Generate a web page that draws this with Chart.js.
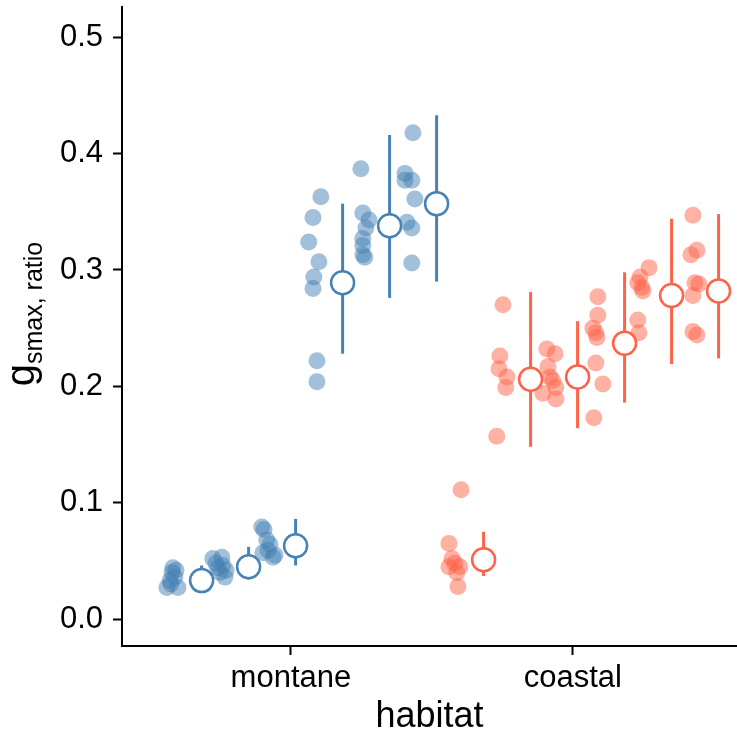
<!DOCTYPE html>
<html>
<head>
<meta charset="utf-8">
<script src="https://cdn.jsdelivr.net/npm/chart.js@4/dist/chart.umd.min.js"></script>
<style>
  html, body { margin: 0; padding: 0; background: #fff; }
  #wrap { width: 737px; height: 738px; }
</style>
</head>
<body>
<div id="wrap"><canvas id="plot" width="737" height="738"></canvas></div>
<script>
// categorias del eje x
const habitats = ['montane', 'coastal'];

// puntos individuales (valores y) por grupo, seis grupos por habitat
const montaneDots = [
    [0.044, 0.040, 0.036, 0.033, 0.027, 0.027, 0.042, 0.030],
    [0.052, 0.053, 0.046, 0.044, 0.036, 0.040, 0.048, 0.042],
    [0.079, 0.077, 0.068, 0.064, 0.059, 0.057, 0.053, 0.055],
    [0.363, 0.345, 0.324, 0.307, 0.294, 0.284, 0.222, 0.204],
    [0.387, 0.349, 0.343, 0.336, 0.327, 0.321, 0.313, 0.311],
    [0.418, 0.383, 0.377, 0.377, 0.361, 0.341, 0.336, 0.306]
];
const coastalDots = [
    [0.111, 0.065, 0.052, 0.048, 0.045, 0.045, 0.040, 0.028],
    [0.270, 0.226, 0.215, 0.208, 0.199, 0.157],
    [0.232, 0.228, 0.217, 0.208, 0.205, 0.194, 0.199, 0.189],
    [0.277, 0.261, 0.250, 0.246, 0.242, 0.220, 0.202, 0.173],
    [0.302, 0.294, 0.289, 0.285, 0.282, 0.257, 0.246],
    [0.347, 0.317, 0.313, 0.289, 0.288, 0.278, 0.247, 0.244]
];

// jitter horizontal de cada punto
const montaneJitter = [
    [-0.002, -0.005, 0.005, -0.012, -0.023, 0.016, 0.009, -0.009],
    [-0.027, 0.005, 0.009, -0.009, 0.016, -0.002, -0.016, 0.020],
    [-0.020, -0.012, -0.002, 0.009, 0.002, -0.016, 0.020, 0.027],
    [0.023, -0.005, -0.020, 0.016, -0.002, -0.005, 0.009, 0.009],
    [-0.002, 0.005, 0.027, 0.016, 0.005, 0.005, 0.005, 0.012],
    [0.016, -0.012, -0.012, 0.012, 0.023, -0.005, 0.012, 0.012]
];
const coastalJitter = [
    [0.020, -0.023, -0.012, -0.002, -0.023, 0.016, 0.005, 0.009],
    [0.002, -0.009, -0.012, 0.016, 0.012, -0.020],
    [-0.009, 0.020, -0.005, 0.002, 0.012, -0.023, 0.023, 0.023],
    [0.005, 0.005, -0.012, -0.002, 0.002, -0.002, 0.023, -0.009],
    [0.020, -0.012, -0.020, -0.005, -0.002, -0.020, -0.016],
    [0.009, 0.023, 0.002, 0.016, 0.030, 0.009, 0.009, 0.023]
];

// medias e intervalos
const montaneMean = [0.033, 0.045, 0.063, 0.289, 0.338, 0.357];
const montaneLow  = [0.026, 0.034, 0.046, 0.228, 0.276, 0.290];
const montaneHigh = [0.046, 0.062, 0.086, 0.357, 0.416, 0.433];
const coastalMean = [0.051, 0.206, 0.208, 0.237, 0.278, 0.282];
const coastalLow  = [0.037, 0.148, 0.164, 0.186, 0.219, 0.224];
const coastalHigh = [0.075, 0.281, 0.256, 0.298, 0.344, 0.348];

const yTicks = [0.0, 0.1, 0.2, 0.3, 0.4, 0.5];

const colors = { montane: '#4682B4', coastal: '#FF6347' };
const dotColors = { montane: 'rgba(70,130,180,0.5)', coastal: 'rgba(255,99,71,0.5)' };
const fontFamily = '"Liberation Sans", Arial, sans-serif';

const groupStep = 1 / 6;
const meanShift = 0.1;

function groupX(h, g) {
    return h + (g - 2.5) * groupStep;
}

let datasets = [];
let allGroups = [
    { h: 0, key: 'montane', dots: montaneDots, jit: montaneJitter, mean: montaneMean, lo: montaneLow, hi: montaneHigh },
    { h: 1, key: 'coastal', dots: coastalDots, jit: coastalJitter, mean: coastalMean, lo: coastalLow, hi: coastalHigh }
];

allGroups.forEach(function (hab) {
    // puntos con jitter
    let pts = [];
    hab.dots.forEach(function (ys, g) {
        ys.forEach(function (y, i) {
            pts.push({ x: groupX(hab.h, g) + hab.jit[g][i], y: y });
        });
    });
    datasets.push({
        type: 'scatter',
        data: pts,
        backgroundColor: dotColors[hab.key],
        borderWidth: 0,
        pointRadius: 8.5,
        order: 3
    });

    // barras de error
    hab.mean.forEach(function (m, g) {
        let x = groupX(hab.h, g) + meanShift;
        datasets.push({
            type: 'line',
            data: [{ x: x, y: hab.lo[g] }, { x: x, y: hab.hi[g] }],
            borderColor: colors[hab.key],
            borderWidth: 3,
            pointRadius: 0,
            fill: false,
            order: 2
        });
    });

    // medias
    datasets.push({
        type: 'scatter',
        data: hab.mean.map((m, g) => ({ x: groupX(hab.h, g) + meanShift, y: m })),
        backgroundColor: '#ffffff',
        borderColor: colors[hab.key],
        borderWidth: 2.5,
        pointRadius: 11.5,
        order: 1
    });
});

// titulos de los ejes (el de y lleva subindice)
const titlesPlugin = {
    id: 'axisTitles',
    afterDraw(chart) {
        let ctx = chart.ctx;
        ctx.save();
        ctx.fillStyle = '#000';
        ctx.translate(34, 314);
        ctx.rotate(-Math.PI / 2);
        ctx.textBaseline = 'alphabetic';
        ctx.textAlign = 'left';
        ctx.font = '40px ' + fontFamily;
        let wg = ctx.measureText('g').width;
        ctx.font = '25px ' + fontFamily;
        let ws = ctx.measureText('smax, ratio').width;
        let start = -(wg + ws) / 2;
        ctx.font = '40px ' + fontFamily;
        ctx.fillText('g', start, 0);
        ctx.font = '25px ' + fontFamily;
        ctx.fillText('smax, ratio', start + wg, 8);
        ctx.restore();

        ctx.save();
        ctx.fillStyle = '#000';
        ctx.font = '36px ' + fontFamily;
        ctx.textAlign = 'center';
        ctx.textBaseline = 'alphabetic';
        ctx.fillText('habitat', (chart.chartArea.left + chart.chartArea.right) / 2, 727);
        ctx.restore();
    }
};

let ctx = document.getElementById('plot').getContext('2d');
let chart = new Chart(ctx, {
    type: 'scatter',
    data: { datasets: datasets },
    options: {
        responsive: false,
        animation: false,
        devicePixelRatio: 1,
        layout: { autoPadding: false, padding: { top: 7, right: 0, left: 0, bottom: 0 } },
        plugins: {
            legend: { display: false },
            tooltip: { enabled: false }
        },
        scales: {
            x: {
                type: 'linear',
                min: -0.599,
                max: 1.582,
                afterBuildTicks: function (scale) {
                    scale.ticks = [{ value: 0 }, { value: 1 }];
                },
                afterFit: function (scale) {
                    scale.height = 92;
                    scale.paddingLeft = 0;
                    scale.paddingRight = 0;
                },
                ticks: {
                    callback: function (v) { return habitats[v]; },
                    color: '#000',
                    font: { size: 31, family: fontFamily },
                    padding: 5,
                    maxRotation: 0,
                    autoSkip: false
                },
                grid: {
                    display: true,
                    drawOnChartArea: false,
                    drawTicks: true,
                    tickLength: 9,
                    tickWidth: 2,
                    tickColor: '#000',
                    color: '#000'
                },
                border: { display: true, color: '#000', width: 2 }
            },
            y: {
                type: 'linear',
                min: -0.0232,
                max: 0.526,
                afterBuildTicks: function (scale) {
                    scale.ticks = yTicks.map(v => ({ value: v }));
                },
                afterFit: function (scale) {
                    scale.width = 122;
                    scale.paddingTop = 0;
                    scale.paddingBottom = 0;
                },
                ticks: {
                    callback: function (v) { return v.toFixed(1); },
                    color: '#000',
                    font: { size: 31, family: fontFamily },
                    padding: 10
                },
                grid: {
                    display: true,
                    drawOnChartArea: false,
                    drawTicks: true,
                    tickLength: 9,
                    tickWidth: 2,
                    tickColor: '#000',
                    color: '#000'
                },
                border: { display: true, color: '#000', width: 2 }
            }
        }
    },
    plugins: [titlesPlugin]
});
</script>
</body>
</html>
